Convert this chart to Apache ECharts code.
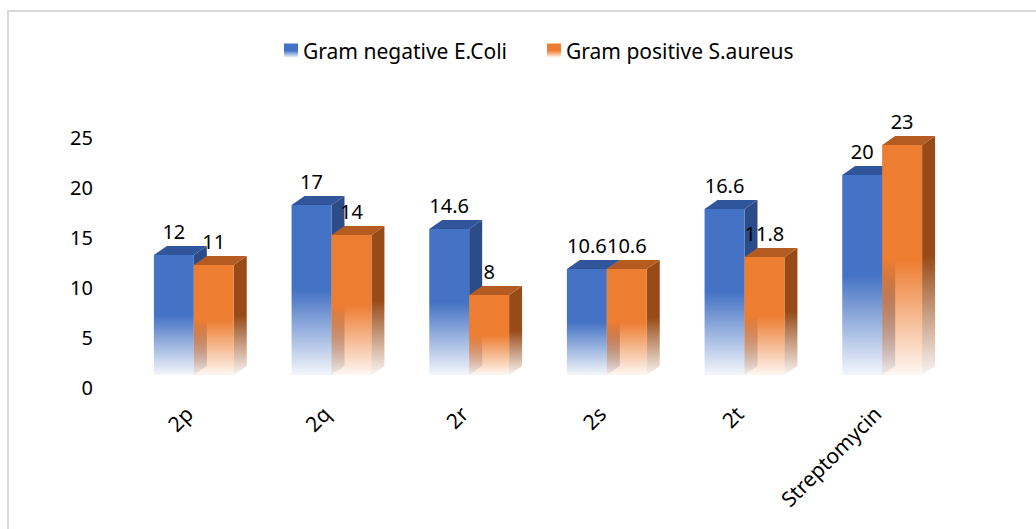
<!DOCTYPE html>
<html>
<head>
<meta charset="utf-8">
<script src="https://cdn.jsdelivr.net/npm/echarts@6/dist/echarts.min.js"></script>
<style>
html,body{margin:0;padding:0;background:#fff;}
#chart{width:1036px;height:529px;}
</style>
</head>
<body>
<div id="chart"></div>
<script>
const categories = ['2p', '2q', '2r', '2s', '2t', 'Streptomycin'];
const eColiValues = [12, 17, 14.6, 10.6, 16.6, 20];
const sAureusValues = [11, 14, 8, 10.6, 11.8, 23];
const seriesNames = ['Gram negative E.Coli', 'Gram positive S.aureus'];
const yMin = 0, yMax = 25, yStep = 5;

const FONT = '"Noto Sans", "Open Sans", sans-serif';
const palettes = [
  {front: '#4472C4', rgb: '68,114,196', top: '#31559A', side: '#2C4C87', rgbSide: '44,76,135'},
  {front: '#ED7D31', rgb: '237,125,49', top: '#B45B21', side: '#984B17', rgbSide: '152,75,23'}
];

function fade(rgb) {
  return {type: 'linear', x: 0, y: 0, x2: 0, y2: 1, colorStops: [
    {offset: 0, color: 'rgba(' + rgb + ',1)'},
    {offset: 0.5, color: 'rgba(' + rgb + ',1)'},
    {offset: 1, color: 'rgba(' + rgb + ',0.06)'}
  ]};
}

function makeRender(side) {
  const p = palettes[side];
  return function (params, api) {
    const idx = api.value(0), v = api.value(1);
    const topPt = api.coord([idx, v]);
    const basePt = api.coord([idx, 0]);
    const band = api.size([1, 0])[0];
    const w = band * 0.29;
    const lift = 12, dx = 13, dy = -9;
    const x0 = side === 0 ? topPt[0] - w : topPt[0];
    const x1 = x0 + w;
    const yT = topPt[1] - lift, yB = basePt[1] - lift;
    return {
      type: 'group',
      children: [
        {type: 'polygon', shape: {points: [[x1, yT], [x1 + dx, yT + dy], [x1 + dx, yB + dy], [x1, yB]]},
         style: {fill: fade(p.rgbSide)}},
        {type: 'polygon', shape: {points: [[x0, yT], [x0 + dx, yT + dy], [x1 + dx, yT + dy], [x1, yT]]},
         style: {fill: p.top}},
        {type: 'rect', shape: {x: x0, y: yT, width: w, height: yB - yT},
         style: {fill: fade(p.rgb)}},
        {type: 'text', style: {text: String(v), x: x0 + w / 2, y: yT - 24, align: 'center', verticalAlign: 'middle',
          fill: '#000', font: '20px ' + FONT}}
      ]
    };
  };
}

const valueLists = [eColiValues, sAureusValues];
const chart = echarts.init(document.getElementById('chart'), null, {renderer: 'svg'});
chart.setOption({
  animation: false,
  backgroundColor: '#fff',
  textStyle: {fontFamily: FONT, color: '#000'},
  graphic: [{
    type: 'polyline', silent: true,
    shape: {points: [[8, 529], [8, 11], [1036, 11]]},
    style: {stroke: '#D9D9D9', lineWidth: 2, fill: null}
  }],
  legend: {
    top: 35, left: 279, itemGap: 40, itemWidth: 14, itemHeight: 14,
    icon: 'rect',
    textStyle: {fontSize: 21, fontFamily: FONT, color: '#000'},
    data: seriesNames
  },
  grid: {left: 125, right: 85, top: 137, bottom: 142, outerBoundsMode: 'none'},
  xAxis: {
    type: 'category', data: categories,
    axisLine: {show: false}, axisTick: {show: false},
    axisLabel: {rotate: 45, margin: 18, padding: [0, 7, 0, 0], fontSize: 21, fontFamily: FONT, color: '#000', interval: 0}
  },
  yAxis: {
    type: 'value', min: yMin, max: yMax, interval: yStep,
    axisLine: {show: false}, axisTick: {show: false}, splitLine: {show: false},
    axisLabel: {margin: 32, fontSize: 20, fontFamily: FONT, color: '#000'}
  },
  series: seriesNames.map((name, s) => ({
    type: 'custom', name: name, clip: false,
    itemStyle: {color: fade(palettes[s].rgb)},
    encode: {x: 0, y: 1},
    data: categories.map((c, i) => [i, valueLists[s][i]]),
    renderItem: makeRender(s),
    emphasis: {disabled: true}
  }))
});
</script>
</body>
</html>
